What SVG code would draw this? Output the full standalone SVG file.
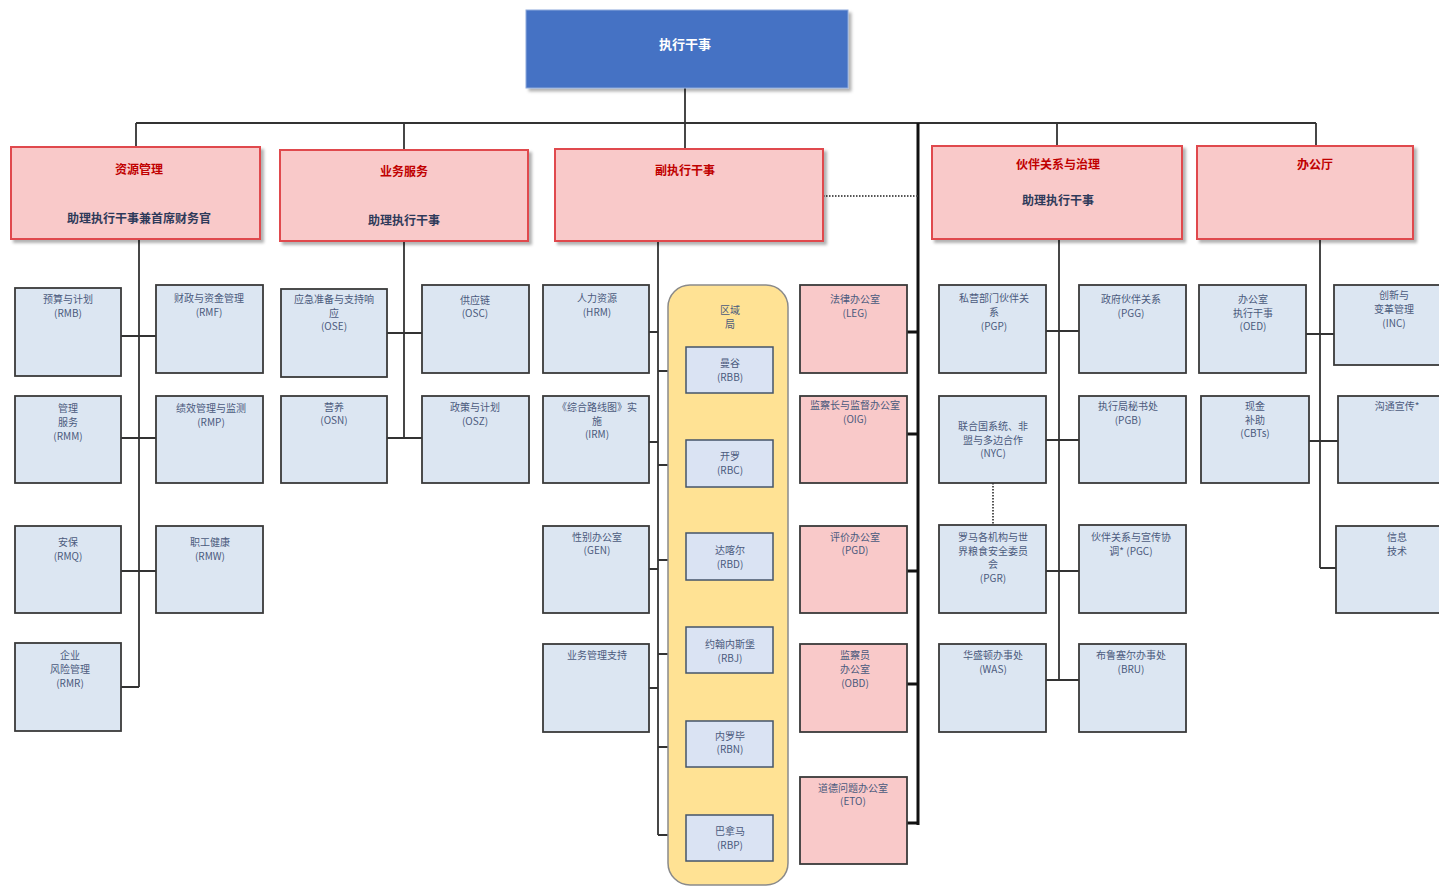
<svg xmlns="http://www.w3.org/2000/svg" width="1439" height="887" viewBox="0 0 1439 887">
<defs>
<filter id="sh" x="-10%" y="-10%" width="130%" height="130%"><feDropShadow dx="3" dy="3" stdDeviation="1.5" flood-color="#000" flood-opacity="0.3"/></filter>
<style>
.top{fill:#4472C4;stroke:#8eaadb;stroke-width:1}
.l2{fill:#F9C9C9;stroke:#E0484E;stroke-width:2}
.bl{fill:#DCE6F2;stroke:#3a3a3a;stroke-width:1.8}
.rb{fill:#DAE3F3;stroke:#44546a;stroke-width:1.5}
.pk{fill:#F9C9C9;stroke:#3a3a3a;stroke-width:1.8}
.yl{fill:#FFE294;stroke:#8a8a8a;stroke-width:1.5}
text{font-family:"Noto Sans CJK SC","Liberation Sans",sans-serif;text-anchor:middle}
.t3{font-size:10px;fill:#4b5a7d}
.t2{font-size:12px;font-weight:bold;fill:#C00000}
.s2{font-size:12px;font-weight:bold;fill:#2f3a5a}
.tt{font-size:13px;font-weight:bold;fill:#ffffff}
.ln{stroke:#333;stroke-width:1.8;fill:none}
.tk{stroke:#111;stroke-width:3;fill:none}
.dt{stroke:#555;stroke-width:2;stroke-dasharray:1.5 1.5;fill:none}
</style>
</defs>
<rect width="1439" height="887" fill="#ffffff"/>
<g id="connectors">
<path class="ln" d="M685 88V123M136 123H1316M136 123V147M404 123V150M685 123V149M1057 123V146M1316 123V146"/>
<path class="tk" d="M918 123V825"/>
<path class="dt" d="M823 196H918"/>
<path class="ln" d="M139 239V687M121 336H156M121 438H156M121 571H156M121 687H139"/>
<path class="ln" d="M404 241V438M387 333H422M387 438H422"/>
<path class="ln" d="M658 241V835M649 332H658M649 442H658M649 569H658M649 688H658M658 371H686M658 465H686M658 560H686M658 654H686M658 747H686M658 835H686"/>
<path class="tk" d="M907 332H918M907 434H918M907 571H918M907 684H918M907 823H918"/>
<path class="ln" d="M1059 239V680M1046 331H1079M1046 440H1079M1046 571H1079M1046 680H1079"/>
<path class="dt" d="M993 483V525"/>
<path class="ln" d="M1320 239V568M1306 334H1334M1309 441H1338M1320 568H1336"/>
</g>
<g id="n-ed"><rect class="top" x="526" y="10" width="322" height="78" filter="url(#sh)"/><text class="tt" x="685" y="49">执行干事</text></g>
<g id="n-rm"><rect class="l2" x="11" y="147" width="249" height="92" filter="url(#sh)"/><text class="t2" x="139" y="174">资源管理</text><text class="s2" x="139" y="223">助理执行干事兼首席财务官</text></g>
<g id="n-os"><rect class="l2" x="280" y="150" width="248" height="91" filter="url(#sh)"/><text class="t2" x="404" y="176">业务服务</text><text class="s2" x="404" y="225">助理执行干事</text></g>
<g id="n-ded"><rect class="l2" x="555" y="149" width="268" height="92" filter="url(#sh)"/><text class="t2" x="685" y="175">副执行干事</text></g>
<g id="n-pg"><rect class="l2" x="932" y="146" width="250" height="93" filter="url(#sh)"/><text class="t2" x="1058" y="169">伙伴关系与治理</text><text class="s2" x="1058" y="205">助理执行干事</text></g>
<g id="n-oc"><rect class="l2" x="1197" y="146" width="216" height="93" filter="url(#sh)"/><text class="t2" x="1315" y="169">办公厅</text></g>
<g id="n-rmb"><rect class="bl" x="15" y="288" width="106" height="88"/><text class="t3" x="68" y="303">预算与计划</text><text class="t3" x="68" y="317">(RMB)</text></g>
<g id="n-rmf"><rect class="bl" x="156" y="285" width="107" height="88"/><text class="t3" x="209" y="302">财政与资金管理</text><text class="t3" x="209" y="316">(RMF)</text></g>
<g id="n-rmm"><rect class="bl" x="15" y="396" width="106" height="87"/><text class="t3" x="68" y="412">管理</text><text class="t3" x="68" y="426">服务</text><text class="t3" x="68" y="440">(RMM)</text></g>
<g id="n-rmp"><rect class="bl" x="156" y="396" width="107" height="87"/><text class="t3" x="211" y="412">绩效管理与监测</text><text class="t3" x="211" y="426">(RMP)</text></g>
<g id="n-rmq"><rect class="bl" x="15" y="526" width="106" height="87"/><text class="t3" x="68" y="546">安保</text><text class="t3" x="68" y="560">(RMQ)</text></g>
<g id="n-rmw"><rect class="bl" x="156" y="526" width="107" height="87"/><text class="t3" x="210" y="546">职工健康</text><text class="t3" x="210" y="560">(RMW)</text></g>
<g id="n-rmr"><rect class="bl" x="15" y="643" width="106" height="88"/><text class="t3" x="70" y="659">企业</text><text class="t3" x="70" y="673">风险管理</text><text class="t3" x="70" y="687">(RMR)</text></g>
<g id="n-ose"><rect class="bl" x="281" y="289" width="106" height="88"/><text class="t3" x="334" y="303">应急准备与支持响</text><text class="t3" x="334" y="317">应</text><text class="t3" x="334" y="330">(OSE)</text></g>
<g id="n-osc"><rect class="bl" x="422" y="285" width="107" height="88"/><text class="t3" x="475" y="304">供应链</text><text class="t3" x="475" y="317">(OSC)</text></g>
<g id="n-osn"><rect class="bl" x="281" y="396" width="106" height="87"/><text class="t3" x="334" y="411">营养</text><text class="t3" x="334" y="424">(OSN)</text></g>
<g id="n-osz"><rect class="bl" x="422" y="396" width="107" height="87"/><text class="t3" x="475" y="411">政策与计划</text><text class="t3" x="475" y="425">(OSZ)</text></g>
<g id="n-hrm"><rect class="bl" x="543" y="285" width="106" height="88"/><text class="t3" x="597" y="302">人力资源</text><text class="t3" x="597" y="316">(HRM)</text></g>
<g id="n-irm"><rect class="bl" x="543" y="396" width="106" height="87"/><text class="t3" x="597" y="411">《综合路线图》实</text><text class="t3" x="597" y="425">施</text><text class="t3" x="597" y="438">(IRM)</text></g>
<g id="n-gen"><rect class="bl" x="543" y="526" width="106" height="87"/><text class="t3" x="597" y="541">性别办公室</text><text class="t3" x="597" y="554">(GEN)</text></g>
<g id="n-bms"><rect class="bl" x="543" y="644" width="106" height="88"/><text class="t3" x="597" y="659">业务管理支持</text></g>
<g id="n-rb"><rect class="yl" x="668" y="285" width="120" height="600" rx="22"/><text class="t3" x="730" y="314">区域</text><text class="t3" x="730" y="328">局</text></g>
<g id="n-rbb"><rect class="rb" x="686" y="347" width="87" height="46"/><text class="t3" x="730" y="367">曼谷</text><text class="t3" x="730" y="381">(RBB)</text></g>
<g id="n-rbc"><rect class="rb" x="686" y="440" width="87" height="47"/><text class="t3" x="730" y="460">开罗</text><text class="t3" x="730" y="474">(RBC)</text></g>
<g id="n-rbd"><rect class="rb" x="686" y="533" width="87" height="47"/><text class="t3" x="730" y="554">达喀尔</text><text class="t3" x="730" y="568">(RBD)</text></g>
<g id="n-rbj"><rect class="rb" x="686" y="627" width="87" height="46"/><text class="t3" x="730" y="648">约翰内斯堡</text><text class="t3" x="730" y="662">(RBJ)</text></g>
<g id="n-rbn"><rect class="rb" x="686" y="721" width="87" height="46"/><text class="t3" x="730" y="740">内罗毕</text><text class="t3" x="730" y="753">(RBN)</text></g>
<g id="n-rbp"><rect class="rb" x="686" y="815" width="87" height="46"/><text class="t3" x="730" y="835">巴拿马</text><text class="t3" x="730" y="849">(RBP)</text></g>
<g id="n-leg"><rect class="pk" x="800" y="285" width="107" height="88"/><text class="t3" x="855" y="303">法律办公室</text><text class="t3" x="855" y="317">(LEG)</text></g>
<g id="n-oig"><rect class="pk" x="800" y="396" width="107" height="87"/><text class="t3" x="855" y="409">监察长与监督办公室</text><text class="t3" x="855" y="423">(OIG)</text></g>
<g id="n-pgd"><rect class="pk" x="800" y="526" width="107" height="87"/><text class="t3" x="855" y="541">评价办公室</text><text class="t3" x="855" y="554">(PGD)</text></g>
<g id="n-obd"><rect class="pk" x="800" y="644" width="107" height="88"/><text class="t3" x="855" y="659">监察员</text><text class="t3" x="855" y="673">办公室</text><text class="t3" x="855" y="687">(OBD)</text></g>
<g id="n-eto"><rect class="pk" x="800" y="777" width="107" height="87"/><text class="t3" x="853" y="792">道德问题办公室</text><text class="t3" x="853" y="805">(ETO)</text></g>
<g id="n-pgp"><rect class="bl" x="939" y="285" width="107" height="88"/><text class="t3" x="994" y="302">私营部门伙伴关</text><text class="t3" x="994" y="316">系</text><text class="t3" x="994" y="330">(PGP)</text></g>
<g id="n-pgg"><rect class="bl" x="1079" y="285" width="107" height="88"/><text class="t3" x="1131" y="303">政府伙伴关系</text><text class="t3" x="1131" y="317">(PGG)</text></g>
<g id="n-nyc"><rect class="bl" x="939" y="396" width="107" height="87"/><text class="t3" x="993" y="430">联合国系统、非</text><text class="t3" x="993" y="444">盟与多边合作</text><text class="t3" x="993" y="457">(NYC)</text></g>
<g id="n-pgb"><rect class="bl" x="1079" y="396" width="107" height="87"/><text class="t3" x="1128" y="410">执行局秘书处</text><text class="t3" x="1128" y="424">(PGB)</text></g>
<g id="n-pgr"><rect class="bl" x="939" y="525" width="107" height="88"/><text class="t3" x="993" y="541">罗马各机构与世</text><text class="t3" x="993" y="555">界粮食安全委员</text><text class="t3" x="993" y="568">会</text><text class="t3" x="993" y="582">(PGR)</text></g>
<g id="n-pgc"><rect class="bl" x="1079" y="525" width="107" height="88"/><text class="t3" x="1131" y="541">伙伴关系与宣传协</text><text class="t3" x="1131" y="555">调* (PGC)</text></g>
<g id="n-was"><rect class="bl" x="939" y="644" width="107" height="88"/><text class="t3" x="993" y="659">华盛顿办事处</text><text class="t3" x="993" y="673">(WAS)</text></g>
<g id="n-bru"><rect class="bl" x="1079" y="644" width="107" height="88"/><text class="t3" x="1131" y="659">布鲁塞尔办事处</text><text class="t3" x="1131" y="673">(BRU)</text></g>
<g id="n-oed"><rect class="bl" x="1199" y="285" width="107" height="88"/><text class="t3" x="1253" y="303">办公室</text><text class="t3" x="1253" y="317">执行干事</text><text class="t3" x="1253" y="330">(OED)</text></g>
<g id="n-inc"><rect class="bl" x="1334" y="285" width="110" height="80"/><text class="t3" x="1394" y="299">创新与</text><text class="t3" x="1394" y="313">变革管理</text><text class="t3" x="1394" y="327">(INC)</text></g>
<g id="n-cbt"><rect class="bl" x="1201" y="396" width="108" height="87"/><text class="t3" x="1255" y="410">现金</text><text class="t3" x="1255" y="424">补助</text><text class="t3" x="1255" y="437">(CBTs)</text></g>
<g id="n-com"><rect class="bl" x="1338" y="396" width="106" height="87"/><text class="t3" x="1397" y="410">沟通宣传*</text></g>
<g id="n-it"><rect class="bl" x="1336" y="526" width="108" height="87"/><text class="t3" x="1397" y="541">信息</text><text class="t3" x="1397" y="555">技术</text></g>
</svg>
